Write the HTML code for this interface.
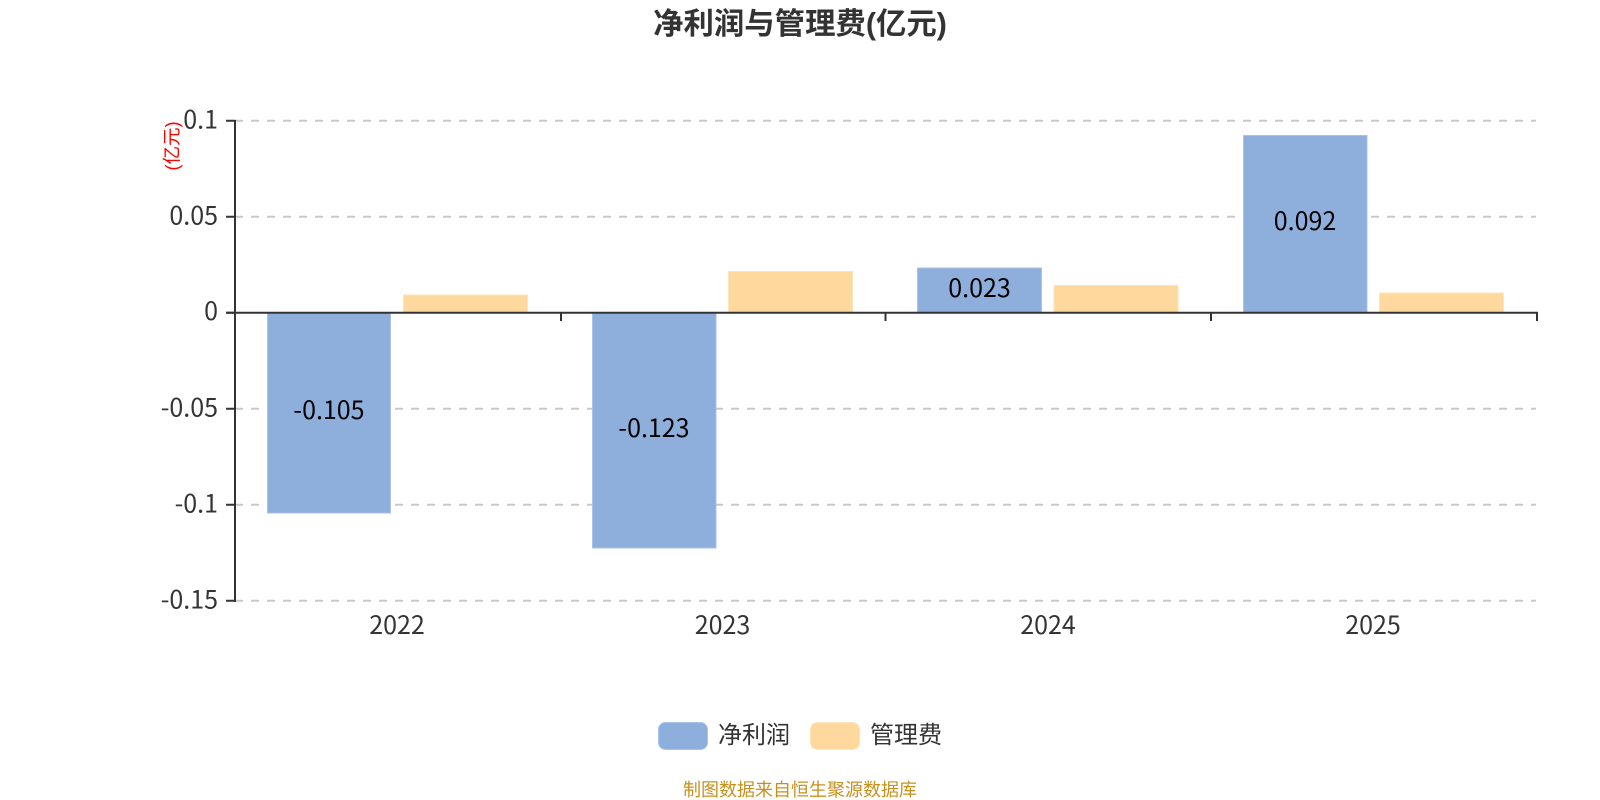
<!DOCTYPE html>
<html lang="zh">
<head>
<meta charset="utf-8">
<title>净利润与管理费(亿元)</title>
<style>
html,body{margin:0;padding:0;background:#fff;width:1600px;height:800px;overflow:hidden}
svg{display:block}
text{font-family:"Liberation Sans","Noto Sans CJK SC",sans-serif}
.n{font-family:"Noto Sans CJK SC","Liberation Sans",sans-serif;font-size:25px}
</style>
</head>
<body>
<svg width="1600" height="800" viewBox="0 0 1600 800" xmlns="http://www.w3.org/2000/svg">
<rect width="1600" height="800" fill="#fff"/>
<text x="800" y="34" text-anchor="middle" font-size="30.4" font-weight="700" fill="#333">净利润与管理费(亿元)</text>

<!-- grid -->
<g stroke="#c8c8c8" stroke-width="2" stroke-dasharray="8 8" fill="none">
<path d="M235 120.7H1536"/>
<path d="M235 216.7H1536"/>
<path d="M235 408.7H1536"/>
<path d="M235 504.7H1536"/>
<path d="M235 600.7H1536"/>
</g>

<!-- bars -->
<g fill="#8eaedb" stroke="#a9c3e6" stroke-width="1">
<rect x="267.5" y="312.5" width="123" height="200.5"/>
<rect x="592.5" y="312.5" width="123.5" height="235.5"/>
<rect x="917.5" y="268" width="124" height="44.5"/>
<rect x="1243.5" y="135.5" width="123.5" height="177"/>
</g>
<g fill="#fed89c" stroke="#fee4bb" stroke-width="1">
<rect x="403.5" y="295" width="124" height="17.5"/>
<rect x="728.5" y="271.5" width="124" height="41"/>
<rect x="1054" y="285.5" width="124" height="27"/>
<rect x="1379.5" y="293" width="124" height="19.5"/>
</g>

<!-- axes -->
<g stroke="#333" stroke-width="2" fill="none">
<path d="M235 120V602"/>
<path d="M226 120.7H235M226 216.7H235M226 312.7H235M226 408.7H235M226 504.7H235M226 600.7H235"/>
<path d="M226 312.7H1538"/>
<path d="M561 312.7V321M885.5 312.7V321M1211 312.7V321M1537 312.7V321"/>
</g>

<!-- y labels -->
<g fill="#333" text-anchor="end">
<text class="n" x="218" y="128.5">0.1</text>
<text class="n" x="218" y="224.5">0.05</text>
<text class="n" x="218" y="320">0</text>
<text class="n" x="218" y="416.5">-0.05</text>
<text class="n" x="218" y="512.5">-0.1</text>
<text class="n" x="218" y="608.5">-0.15</text>
</g>
<text transform="translate(178.5,146) rotate(-90)" text-anchor="middle" font-size="18.5" fill="#f00">(亿元)</text>

<!-- x labels -->
<g fill="#333" text-anchor="middle">
<text class="n" x="397" y="634">2022</text>
<text class="n" x="722.5" y="634">2023</text>
<text class="n" x="1048" y="634">2024</text>
<text class="n" x="1373" y="634">2025</text>
</g>

<!-- data labels -->
<g fill="#000" text-anchor="middle">
<text class="n" x="329" y="419">-0.105</text>
<text class="n" x="654" y="437">-0.123</text>
<text class="n" x="979.5" y="297">0.023</text>
<text class="n" x="1305" y="230">0.092</text>
</g>

<!-- legend -->
<rect x="658.5" y="722.5" width="49" height="27" rx="7" fill="#8eaedb" stroke="#a9c3e6"/>
<rect x="810.5" y="722.5" width="49" height="27" rx="7" fill="#fed89c" stroke="#fee4bb"/>
<text x="718" y="743" font-size="24" fill="#333">净利润</text>
<text x="870" y="743" font-size="24" fill="#333">管理费</text>

<text x="800" y="796" text-anchor="middle" font-size="18" fill="#c8901f">制图数据来自恒生聚源数据库</text>
</svg>
</body>
</html>
